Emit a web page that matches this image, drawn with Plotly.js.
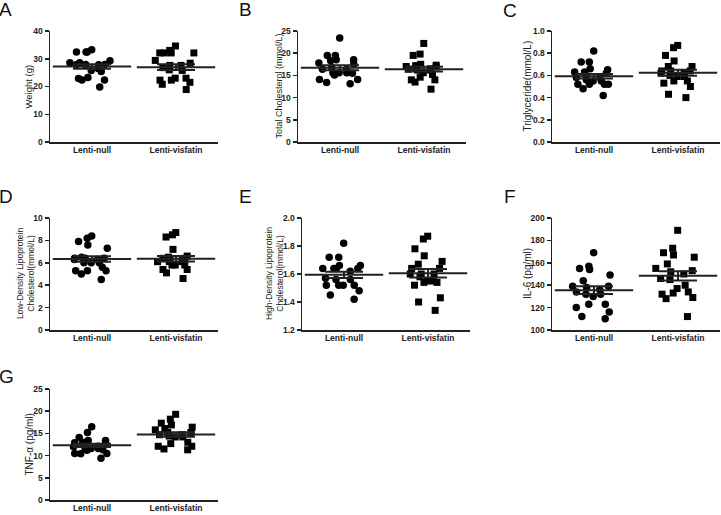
<!DOCTYPE html>
<html><head><meta charset="utf-8">
<script src="https://cdn.plot.ly/plotly-3.0.1.min.js"></script>
<style>html,body{margin:0;padding:0;background:#fff}#chart{width:721px;height:515px}</style>
</head><body><div id="chart"></div>
<script>
const categories = ['Lenti-null', 'Lenti-visfatin'];
const panelLetters = ['A', 'B', 'C', 'D', 'E', 'F', 'G'];
const yTitles = ['Weight (g)', 'Total Cholesterol (mmol/L)', 'Triglyceride(mmol/L)',
  'Low-Density Lipoprotein<br>Cholesterol(mmol/L)', 'High-Density Lipoprotein<br>Cholesterol(mmol/L)',
  'IL-6 (pg/ml)', 'TNF-\u03b1 (pg/ml)'];

const weightNull = [33.2, 32.4, 32.4, 32.4, 29.3, 28.6, 28.6, 27.9, 27.8, 27.8, 27.6, 27.9, 26.5, 25.4, 25.8, 23.2, 22.9, 22.3, 22.3, 19.8];
const weightVisfatin = [34.6, 33.0, 32.1, 32.1, 32.1, 32.1, 29.4, 28.4, 27.6, 27.6, 26.8, 26.0, 25.8, 23.0, 23.0, 22.3, 22.3, 21.5, 20.8, 18.9];
const tcNull = [23.4, 19.5, 19.5, 18.5, 18.5, 18.3, 17.8, 17.5, 16.4, 16.4, 16.8, 15.5, 15.6, 15.1, 15.6, 15.6, 14.1, 14.1, 13.4, 13.1];
const tcVisfatin = [22.2, 19.8, 19.5, 17.5, 17.3, 17.2, 17.0, 16.9, 16.6, 16.5, 16.4, 16.2, 16.2, 15.6, 15.2, 14.6, 14.0, 14.0, 13.5, 11.9];
const tgNull = [0.82, 0.72, 0.72, 0.66, 0.65, 0.63, 0.63, 0.62, 0.60, 0.58, 0.58, 0.56, 0.55, 0.55, 0.52, 0.52, 0.52, 0.52, 0.48, 0.42];
const tgVisfatin = [0.87, 0.85, 0.78, 0.73, 0.68, 0.68, 0.64, 0.64, 0.64, 0.62, 0.62, 0.60, 0.59, 0.59, 0.55, 0.55, 0.53, 0.50, 0.43, 0.40];
const ldlNull = [8.4, 8.2, 7.9, 7.6, 7.3, 6.4, 6.4, 6.5, 6.4, 6.3, 6.3, 6.0, 6.0, 6.0, 5.6, 5.3, 5.3, 5.3, 5.0, 4.5];
const ldlVisfatin = [8.7, 8.5, 8.3, 7.2, 6.6, 6.5, 6.4, 6.4, 6.2, 6.2, 6.1, 6.1, 6.1, 5.8, 5.8, 5.8, 5.4, 5.4, 5.1, 4.6];
const hdlNull = [1.82, 1.72, 1.72, 1.66, 1.66, 1.64, 1.64, 1.64, 1.64, 1.62, 1.57, 1.56, 1.56, 1.52, 1.52, 1.52, 1.52, 1.48, 1.45, 1.42];
const hdlVisfatin = [1.87, 1.85, 1.78, 1.73, 1.69, 1.67, 1.64, 1.64, 1.60, 1.60, 1.60, 1.58, 1.55, 1.55, 1.54, 1.54, 1.52, 1.43, 1.40, 1.34];
const il6Null = [169, 157, 155, 154, 149, 144, 139, 139, 138, 136, 134, 132, 132, 130, 123, 123, 120, 116, 112, 110];
const il6Visfatin = [189, 173, 169, 167, 165, 159, 155, 153, 152, 150, 146, 145, 140, 137, 134, 133, 132, 129, 128, 112];
const tnfNull = [16.5, 15.2, 14.1, 13.4, 13.4, 13.0, 12.9, 12.9, 12.5, 12.1, 12.0, 11.6, 11.6, 11.6, 11.3, 11.2, 10.5, 10.5, 10.4, 9.4];
const tnfVisfatin = [19.3, 18.2, 17.3, 16.9, 16.4, 16.1, 15.8, 15.2, 15.2, 14.7, 14.7, 14.4, 14.2, 14.2, 13.0, 12.7, 12.1, 12.1, 11.5, 11.3];

const yRanges = [[0, 40], [0, 25], [0, 1], [0, 10], [1.2, 2.0], [100, 200], [0, 25]];
const yDticks = [10, 5, 0.2, 2, 0.2, 20, 5];
const yFormats = ['', '', '.1f', '', '.1f', '', ''];

const groups = [
  [weightNull, weightVisfatin], [tcNull, tcVisfatin], [tgNull, tgVisfatin],
  [ldlNull, ldlVisfatin], [hdlNull, hdlVisfatin], [il6Null, il6Visfatin], [tnfNull, tnfVisfatin]
];

// layout geometry in pixels: [left, right, top, bottom]
const W = 721, H = 515;
const boxesPx = [[50, 218, 31, 142], [298, 466, 31, 142], [552, 720, 31, 142],
  [50, 218, 218, 330], [302, 470, 218, 330], [552, 720, 218, 330], [50, 218, 389, 500]];
const titleXPx = [28, 278, 527, 25, 274, 527, 29];
const titleSizes = [9.5, 9, 10, 8.5, 8.5, 10, 10];
const letterPx = [[-3, -3], [237, -3], [501, -2], [-3, 184], [237, 184], [502, 184], [-3, 364]];

const FONT = 'Liberation Sans, Arial, sans-serif';
const INK = '#222';

function mean(a) { return a.reduce((s, v) => s + v, 0) / a.length; }
function sem(a) {
  const m = mean(a);
  const sd = Math.sqrt(a.reduce((s, v) => s + (v - m) * (v - m), 0) / (a.length - 1));
  return sd / Math.sqrt(a.length);
}

const traces = [];
const layout = {
  width: W, height: H, margin: {l: 0, r: 0, t: 0, b: 0},
  paper_bgcolor: '#fff', plot_bgcolor: '#fff', showlegend: false,
  boxmode: 'overlay', annotations: []
};

groups.forEach((pair, i) => {
  const sfx = i === 0 ? '' : String(i + 1);
  const xa = 'x' + sfx, ya = 'y' + sfx;
  const b = boxesPx[i];
  pair.forEach((vals, g) => {
    traces.push({
      type: 'box', x: vals.map(() => categories[g]), y: vals, xaxis: xa, yaxis: ya,
      boxpoints: 'all', jitter: 1, pointpos: 0, width: 0.6,
      fillcolor: 'rgba(0,0,0,0)', line: {width: 0, color: 'rgba(0,0,0,0)'},
      marker: {symbol: g ? 'square' : 'circle', size: g ? 7 : 7.5, color: '#000'},
      hoverinfo: 'skip'
    });
  });
  pair.forEach((vals, g) => {
    traces.push({
      type: 'scatter', mode: 'markers', x: [categories[g]], y: [mean(vals)], xaxis: xa, yaxis: ya,
      marker: {symbol: 'line-ew', size: 56, color: INK, line: {width: 2, color: INK}},
      error_y: {type: 'data', array: [sem(vals)], width: 19, thickness: 2, color: INK},
      hoverinfo: 'skip'
    });
  });
  layout['xaxis' + sfx] = {
    domain: [b[0] / W, b[1] / W], anchor: ya, type: 'category',
    categoryorder: 'array', categoryarray: categories, range: [-0.5, 1.5],
    showline: true, linecolor: INK, linewidth: 1.5, ticks: '', showgrid: false, zeroline: false,
    ticklabelstandoff: -1,
    tickfont: {family: FONT, size: 8.5, weight: 'bold', color: INK}, fixedrange: true
  };
  layout['yaxis' + sfx] = {
    domain: [1 - b[3] / H, 1 - b[2] / H], anchor: xa, range: yRanges[i],
    dtick: yDticks[i], tick0: yRanges[i][0], tickformat: yFormats[i],
    showline: true, linecolor: INK, linewidth: 1.5, ticks: 'outside', ticklen: 4, tickwidth: 1.5, tickcolor: INK,
    showgrid: false, zeroline: false,
    tickfont: {family: FONT, size: 8.5, weight: 'bold', color: INK}, fixedrange: true
  };
  layout.annotations.push({
    xref: 'paper', yref: 'paper', x: titleXPx[i] / W, y: 1 - ((b[2] + b[3]) / 2) / H,
    text: yTitles[i], textangle: -90, showarrow: false, xanchor: 'center', yanchor: 'middle',
    font: {family: FONT, size: titleSizes[i], color: INK}
  });
  layout.annotations.push({
    xref: 'paper', yref: 'paper', x: letterPx[i][0] / W, y: 1 - letterPx[i][1] / H,
    text: panelLetters[i], showarrow: false, xanchor: 'left', yanchor: 'top',
    font: {family: FONT, size: 19, color: '#111'}
  });
});

Plotly.newPlot('chart', traces, layout, {displayModeBar: false, staticPlot: true});
</script>
</body></html>
